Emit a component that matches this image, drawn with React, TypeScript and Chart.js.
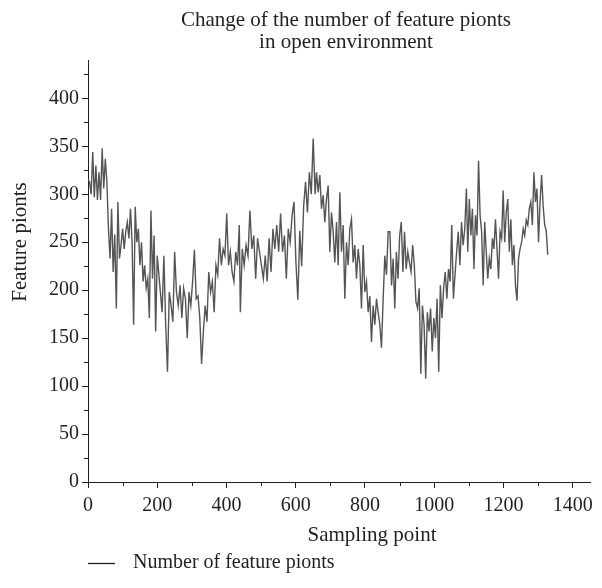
import { useEffect, useRef } from "react";
import { Chart, registerables } from "chart.js";

Chart.register(...registerables);

// ---- Data ----
const seg1 = [315, 313, 300, 344, 297, 330, 294, 323, 294, 348, 306, 337, 313, 264, 233, 285, 219, 258, 181, 292, 233, 247, 264, 243, 261, 271, 254, 285, 250, 164, 287, 250, 264, 226, 250, 209, 226, 202, 212, 171, 283, 212, 257, 157, 236];
const seg2 = [177, 236, 164, 115, 198, 184, 167, 240, 198, 184, 205, 171, 202, 191, 150, 198, 184, 209, 242, 191, 194, 171, 123, 157, 184, 167, 219, 198, 209, 177, 226, 216, 254, 226, 243, 236, 280, 226, 240, 219, 209, 240, 226, 268];
const seg3 = [177, 243, 226, 247, 236, 283, 243, 257, 212, 254, 240, 226, 212, 236, 209, 254, 219, 264, 243, 268, 240, 280, 240, 257, 212, 264, 250, 278, 292, 229, 190, 262, 225, 287, 313, 281, 323, 300, 358, 300];
const seg4 = [323, 302, 320, 285, 299, 271, 295, 309, 240, 281, 261, 229, 271, 226, 302, 240, 268, 191, 250, 226, 264, 274, 229, 247, 212, 243, 226, 181, 247, 198, 209, 177, 194, 146, 184, 164, 191, 177, 164, 140, 191, 236, 216, 261];
const seg5 = [261, 205, 233, 181, 240, 212, 257, 271, 219, 261, 222, 240, 229, 219, 247, 226, 188, 181, 202, 113, 184, 164, 108, 177, 157, 181, 136, 171, 150, 191, 115, 205, 171, 202, 219, 191, 222, 209, 268, 191, 216, 240, 261, 226, 271, 247, 264, 306];
const seg6 = [240, 295, 257, 285, 222, 278, 257, 335, 278, 261, 205, 271, 240, 212, 233, 222, 254, 243, 274, 243, 212, 261, 254, 304, 250, 281, 295, 240, 274, 226, 247, 205, 189, 233, 243, 250, 264, 257, 273, 268, 285, 292, 268, 323, 292, 306, 250, 292, 320, 288, 268, 262, 237];

// sampling-point range covered by each segment
const SEG_START = [0, 214, 440, 660, 872, 1097];
const SEG_END = [200, 437, 656, 867, 1093, 1328];
const SEGMENTS = [seg1, seg2, seg3, seg4, seg5, seg6];

const X_TICKS_MINOR = [100, 300, 500, 700, 900, 1100, 1300];
const Y_TICKS_MINOR = [25, 75, 125, 175, 225, 275, 325, 375, 425];

const TITLE_LINES = ["Change of the number of feature pionts", "in open environment"];
const X_TITLE = "Sampling point";
const Y_TITLE = "Feature pionts";
const SERIES_NAME = "Number of feature pionts";

const points: { x: number; y: number }[] = [];
SEGMENTS.forEach((seg, k) => {
  const s = SEG_START[k];
  const e = SEG_END[k];
  seg.forEach((v, i) => {
    points.push({ x: s + (i * (e - s)) / (seg.length - 1), y: v });
  });
});

const FONT = "'Liberation Serif', 'DejaVu Serif', serif";
const TEXT = "#231f20";
const AXIS = "#231f20";
const LINE = "#555555";

const overlay = {
  id: "overlay",
  afterDraw(chart: any) {
    const { ctx, chartArea, scales } = chart;
    const { left, bottom } = chartArea;
    ctx.save();
    ctx.strokeStyle = AXIS;
    ctx.lineWidth = 1;
    ctx.beginPath();
    Y_TICKS_MINOR.forEach((v) => {
      const y = Math.round(scales.y.getPixelForValue(v)) + 0.5;
      ctx.moveTo(left - 4, y);
      ctx.lineTo(left, y);
    });
    X_TICKS_MINOR.forEach((v) => {
      const x = Math.round(scales.x.getPixelForValue(v)) + 0.5;
      ctx.moveTo(x, bottom);
      ctx.lineTo(x, bottom + 4);
    });
    ctx.stroke();

    ctx.fillStyle = TEXT;
    ctx.textAlign = "center";
    ctx.textBaseline = "middle";
    ctx.font = `21px ${FONT}`;
    ctx.fillText(TITLE_LINES[0], 346, 20);
    ctx.fillText(TITLE_LINES[1], 346, 42);

    ctx.fillText(X_TITLE, 372, 535);

    ctx.save();
    ctx.translate(20, 242);
    ctx.rotate(-Math.PI / 2);
    ctx.fillText(Y_TITLE, 0, 0);
    ctx.restore();

    // legend
    ctx.beginPath();
    ctx.strokeStyle = "#231f20";
    ctx.lineWidth = 1.3;
    ctx.moveTo(88, 563.5);
    ctx.lineTo(115, 563.5);
    ctx.stroke();
    ctx.textAlign = "left";
    ctx.font = `20px ${FONT}`;
    ctx.fillText(SERIES_NAME, 133, 563);
    ctx.restore();
  },
};

export default function App() {
  const ref = useRef<HTMLCanvasElement>(null);
  useEffect(() => {
    document.body.style.margin = "0";
    const chart = new Chart(ref.current!, {
      type: "line",
      data: {
        datasets: [
          {
            label: SERIES_NAME,
            data: points,
            borderColor: LINE,
            borderWidth: 1.4,
            pointRadius: 0,
            tension: 0,
            fill: false,
          },
        ],
      },
      options: {
        responsive: false,
        animation: false,
        layout: { padding: { left: 8, right: 12, top: 60, bottom: 0 } },
        plugins: {
          legend: { display: false },
          title: { display: false },
          tooltip: { enabled: false },
        },
        scales: {
          x: {
            type: "linear",
            min: 0,
            max: 1450,
            afterFit: (s: any) => {
              s.height = 106;
            },
            ticks: {
              stepSize: 200,
              includeBounds: false,
              autoSkip: false,
              maxRotation: 0,
              padding: 6,
              color: TEXT,
              font: { family: FONT, size: 20 },
              callback: (v: any) => String(v),
            },
            grid: { drawOnChartArea: false, drawTicks: true, tickLength: 6, color: AXIS },
            border: { color: AXIS, width: 1 },
          },
          y: {
            type: "linear",
            min: 0,
            max: 440,
            afterFit: (s: any) => {
              s.width = 80;
            },
            ticks: {
              stepSize: 50,
              includeBounds: false,
              padding: 3,
              color: TEXT,
              font: { family: FONT, size: 20 },
              callback: (v: any) => String(v),
            },
            grid: { drawOnChartArea: false, drawTicks: true, tickLength: 6, color: AXIS },
            border: { color: AXIS, width: 1 },
          },
        },
      },
      plugins: [overlay],
    });
    return () => chart.destroy();
  }, []);
  return <canvas ref={ref} width={602} height={588} style={{ display: "block" }} />;
}
